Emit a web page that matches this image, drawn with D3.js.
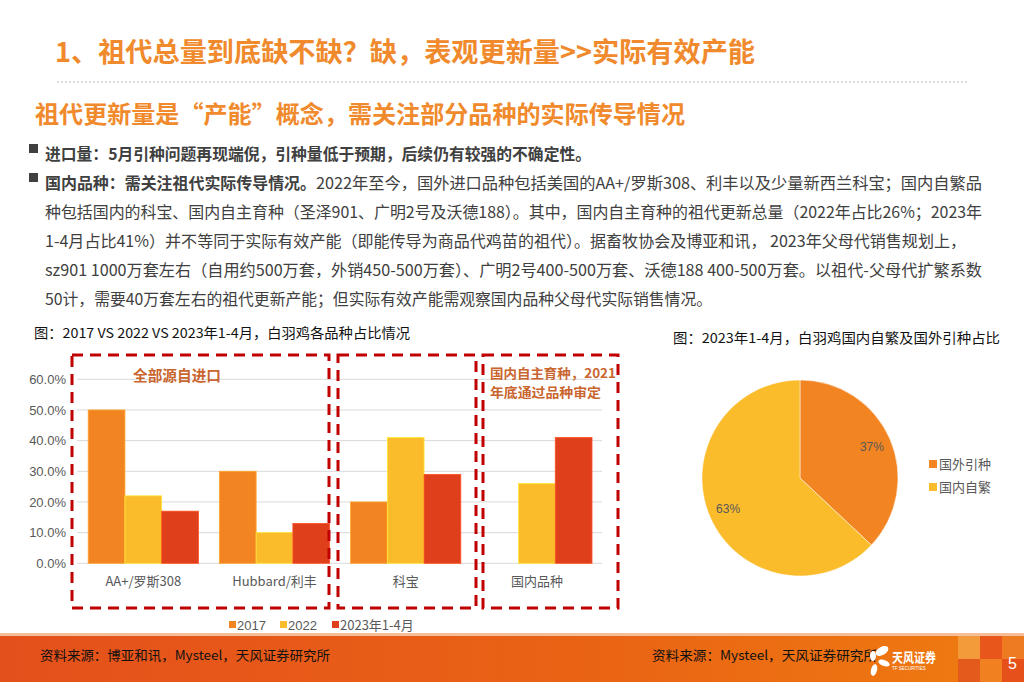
<!doctype html>
<html lang="zh">
<head>
<meta charset="utf-8">
<title>祖代总量到底缺不缺</title>
<script src="https://d3js.org/d3.v7.min.js"></script>
<style>
  body { margin: 0; background: #fff; }
  svg { display: block; }
  .cjk { font-family: "Noto Sans CJK SC", "Microsoft YaHei", sans-serif; }
  .num { font-family: "Liberation Sans", Arial, sans-serif; }
</style>
</head>
<body>
<div id="page"></div>
<script>
// ---- data ----
var categories = ["AA+/罗斯308", "Hubbard/利丰", "科宝", "国内品种"];
var seriesNames = ["2017", "2022", "2023年1-4月"];
var v2017 = [50, 30, 20, 0];
var v2022 = [22, 10, 41, 26];
var v2023 = [17, 13, 29, 41];
var yTicks = [0, 10, 20, 30, 40, 50, 60];

var pieLabels = ["国外引种", "国内自繁"];
var pieValues = [37, 63];

var barColors = ["#F28522", "#FBBC2C", "#DF401B"];
var pieColors = ["#F28522", "#FBBC2C"];

var bodyLines = [
  "种包括国内的科宝、国内自主育种（圣泽901、广明2号及沃德188）。其中，国内自主育种的祖代更新总量（2022年占比26%；2023年",
  "1-4月占比41%）并不等同于实际有效产能（即能传导为商品代鸡苗的祖代）。据畜牧协会及博亚和讯， 2023年父母代销售规划上，",
  "sz901 1000万套左右（自用约500万套，外销450-500万套）、广明2号400-500万套、沃德188 400-500万套。以祖代-父母代扩繁系数",
  "50计，需要40万套左右的祖代更新产能；但实际有效产能需观察国内品种父母代实际销售情况。"
];
var bodyWidths = [937, 921, 937, 667];

// ---- page ----
var W = 1024, H = 682;
var svg = d3.select("#page").append("svg")
  .attr("width", W).attr("height", H);

var defs = svg.append("defs");
var grad = defs.append("linearGradient").attr("id", "foot").attr("x1", 0).attr("x2", 1).attr("y1", 0).attr("y2", 0);
grad.append("stop").attr("offset", "0%").attr("stop-color", "#E4501C");
grad.append("stop").attr("offset", "60%").attr("stop-color", "#EA6414");
grad.append("stop").attr("offset", "100%").attr("stop-color", "#EF7C10");

// header
svg.append("text").attr("class", "cjk")
  .attr("x", 55).attr("y", 62)
  .attr("font-size", 27).attr("font-weight", "bold").attr("fill", "#F08A2C")
  .attr("textLength", 700).attr("lengthAdjust", "spacingAndGlyphs")
  .text("1、祖代总量到底缺不缺？缺，表观更新量>>实际有效产能");

svg.append("line")
  .attr("x1", 57).attr("x2", 967).attr("y1", 82).attr("y2", 82)
  .attr("stroke", "#cfcfcf").attr("stroke-width", 1.5).attr("stroke-dasharray", "2,2");

svg.append("text").attr("class", "cjk")
  .attr("x", 35).attr("y", 123)
  .attr("font-size", 24).attr("font-weight", "bold").attr("fill", "#F08A2C")
  .attr("textLength", 650).attr("lengthAdjust", "spacingAndGlyphs")
  .text("祖代更新量是“产能”概念，需关注部分品种的实际传导情况");

// bullets
var textColor = "#404040";
[154, 183].forEach(function (y) {
  svg.append("rect").attr("x", 29).attr("y", y - 10).attr("width", 9).attr("height", 9).attr("fill", "#404040");
});
svg.append("text").attr("class", "cjk")
  .attr("x", 45).attr("y", 160).attr("font-size", 16).attr("font-weight", "bold").attr("fill", textColor)
  .attr("textLength", 546).attr("lengthAdjust", "spacingAndGlyphs")
  .text("进口量：5月引种问题再现端倪，引种量低于预期，后续仍有较强的不确定性。");

svg.append("text").attr("class", "cjk")
  .attr("x", 45).attr("y", 189).attr("font-size", 16).attr("font-weight", "bold").attr("fill", textColor)
  .attr("textLength", 271).attr("lengthAdjust", "spacingAndGlyphs")
  .text("国内品种：需关注祖代实际传导情况。");
svg.append("text").attr("class", "cjk")
  .attr("x", 316).attr("y", 189).attr("font-size", 16).attr("fill", textColor)
  .attr("textLength", 666).attr("lengthAdjust", "spacingAndGlyphs")
  .text("2022年至今，国外进口品种包括美国的AA+/罗斯308、利丰以及少量新西兰科宝；国内自繁品");

bodyLines.forEach(function (t, i) {
  svg.append("text").attr("class", "cjk")
    .attr("x", 45).attr("y", 218 + i * 29).attr("font-size", 16).attr("fill", textColor)
    .attr("textLength", bodyWidths[i]).attr("lengthAdjust", "spacingAndGlyphs")
    .text(t);
});

// ---- bar chart ----
svg.append("text").attr("class", "cjk")
  .attr("x", 34).attr("y", 338).attr("font-size", 13.5).attr("fill", "#111")
  .attr("textLength", 376).attr("lengthAdjust", "spacingAndGlyphs")
  .text("图：2017 VS 2022 VS 2023年1-4月，白羽鸡各品种占比情况");

var x = d3.scaleBand().domain(categories).range([77.7, 602.5]).paddingInner(0.16).paddingOuter(0.08);
var x1 = d3.scaleBand().domain(seriesNames).range([0, x.bandwidth()]);
var y = d3.scaleLinear().domain([0, 60]).range([563.3, 379.3]);

var grid = svg.append("g");
grid.selectAll("line").data(yTicks).enter().append("line")
  .attr("x1", 77).attr("x2", 602)
  .attr("y1", function (d) { return y(d); }).attr("y2", function (d) { return y(d); })
  .attr("stroke", "#d9d9d9").attr("stroke-width", 1);

var yAxis = svg.append("g").attr("transform", "translate(66,0)")
  .call(d3.axisLeft(y).tickValues(yTicks).tickSize(0).tickPadding(0)
    .tickFormat(function (d) { return d.toFixed(1) + "%"; }));
yAxis.select(".domain").remove();
yAxis.selectAll("text").attr("class", "num").attr("font-size", 13).attr("fill", "#595959");

var series = [v2017, v2022, v2023];
series.forEach(function (vals, s) {
  svg.append("g").selectAll("rect").data(vals).enter().append("rect")
    .attr("x", function (d, i) { return x(categories[i]) + x1(seriesNames[s]); })
    .attr("y", function (d) { return y(d); })
    .attr("width", x1.bandwidth())
    .attr("height", function (d) { return y(0) - y(d); })
    .attr("fill", barColors[s])
    .attr("stroke", d3.color(barColors[s]).brighter(0.6))
    .attr("stroke-width", d => d > 0 ? 0.8 : 0);
});

var xAxis = svg.append("g").attr("transform", "translate(0,574)")
  .call(d3.axisBottom(x).tickSize(0).tickPadding(0));
xAxis.select(".domain").remove();
xAxis.selectAll("text").attr("class", "cjk").attr("font-size", 13).attr("fill", "#595959").attr("dy", "0.9em");

// dashed boxes
var boxes = [[72, 329], [338, 476], [483, 618]];
svg.append("g").selectAll("rect").data(boxes).enter().append("rect")
  .attr("x", function (d) { return d[0]; }).attr("y", 355)
  .attr("width", function (d) { return d[1] - d[0]; }).attr("height", 253)
  .attr("fill", "none").attr("stroke", "#C00000").attr("stroke-width", 3)
  .attr("stroke-dasharray", "11,7");

var noteColor = "#C9652E";
svg.append("text").attr("class", "cjk")
  .attr("x", 133).attr("y", 381).attr("font-size", 15).attr("font-weight", "bold").attr("fill", noteColor)
  .attr("textLength", 88).attr("lengthAdjust", "spacingAndGlyphs")
  .text("全部源自进口");
svg.append("text").attr("class", "cjk")
  .attr("x", 490).attr("y", 378).attr("font-size", 13).attr("font-weight", "bold").attr("fill", noteColor)
  .attr("textLength", 126).attr("lengthAdjust", "spacingAndGlyphs")
  .text("国内自主育种，2021");
svg.append("text").attr("class", "cjk")
  .attr("x", 490).attr("y", 397).attr("font-size", 13).attr("font-weight", "bold").attr("fill", noteColor)
  .attr("textLength", 111).attr("lengthAdjust", "spacingAndGlyphs")
  .text("年底通过品种审定");

// bar legend
var legX = [229, 280, 332];
var leg = svg.append("g");
seriesNames.forEach(function (n, i) {
  leg.append("rect").attr("x", legX[i]).attr("y", 621).attr("width", 7).attr("height", 7).attr("fill", barColors[i]);
  leg.append("text").attr("class", i < 2 ? "num" : "cjk")
    .attr("x", legX[i] + 8).attr("y", 630).attr("font-size", 13).attr("fill", "#595959").text(n);
});

// ---- pie chart ----
svg.append("text").attr("class", "cjk")
  .attr("x", 673).attr("y", 343).attr("font-size", 13.5).attr("fill", "#111")
  .attr("textLength", 327).attr("lengthAdjust", "spacingAndGlyphs")
  .text("图：2023年1-4月，白羽鸡国内自繁及国外引种占比");

var R = 98;
var pie = d3.pie().sort(null).value(function (d) { return d; });
var arc = d3.arc().innerRadius(0).outerRadius(R);
var labelArc = d3.arc().innerRadius(R * 0.8).outerRadius(R * 0.8);
var pg = svg.append("g").attr("transform", "translate(800,478)");
var arcs = pie(pieValues);
pg.selectAll("path").data(arcs).enter().append("path")
  .attr("d", arc)
  .attr("fill", function (d, i) { return pieColors[i]; })
  .attr("stroke", "#fff").attr("stroke-width", 0.5);
pg.selectAll("text").data(arcs).enter().append("text")
  .attr("class", "num")
  .attr("transform", function (d) { return "translate(" + labelArc.centroid(d) + ")"; })
  .attr("text-anchor", "middle").attr("dy", "0.35em")
  .attr("font-size", 12).attr("fill", "#595959")
  .text(function (d) { return d.data + "%"; });

pieLabels.forEach(function (n, i) {
  svg.append("rect").attr("x", 929).attr("y", 460 + i * 23).attr("width", 8).attr("height", 8).attr("fill", pieColors[i]);
  svg.append("text").attr("class", "cjk")
    .attr("x", 939).attr("y", 469 + i * 23).attr("font-size", 13).attr("fill", "#595959").text(n);
});

// ---- footer ----
svg.append("rect").attr("x", 0).attr("y", 633).attr("width", W).attr("height", 3).attr("fill", "#F6BE98");
svg.append("rect").attr("x", 0).attr("y", 636).attr("width", W).attr("height", H - 636).attr("fill", "url(#foot)");

var tiles = [
  [958, 636, "#F39B3A"], [980, 636, "#E8561C"], [1002, 636, "#EE7A22"],
  [958, 659, "#E35A1C"], [980, 659, "#F08020"], [1002, 659, "#E6501A"]
];
svg.append("g").selectAll("rect").data(tiles).enter().append("rect")
  .attr("x", function (d) { return d[0]; }).attr("y", function (d) { return d[1]; })
  .attr("width", 22).attr("height", 23).attr("fill", function (d) { return d[2]; });

svg.append("text").attr("class", "num").attr("x", 1008).attr("y", 669)
  .attr("font-size", 16).attr("fill", "#fff").text("5");

svg.append("text").attr("class", "cjk").attr("x", 40).attr("y", 660)
  .attr("font-size", 13).attr("fill", "#111")
  .attr("textLength", 290).attr("lengthAdjust", "spacingAndGlyphs")
  .text("资料来源：博亚和讯，Mysteel，天风证券研究所");
svg.append("text").attr("class", "cjk").attr("x", 652).attr("y", 660)
  .attr("font-size", 13).attr("fill", "#111")
  .attr("textLength", 225).attr("lengthAdjust", "spacingAndGlyphs")
  .text("资料来源：Mysteel，天风证券研究所");

// logo
var logo = svg.append("g").attr("transform", "translate(878,660)").attr("fill", "#fff");
logo.append("ellipse").attr("cx", 4).attr("cy", -9).attr("rx", 7).attr("ry", 4).attr("transform", "rotate(-30,4,-9)");
logo.append("ellipse").attr("cx", -5).attr("cy", -4).attr("rx", 3).attr("ry", 5);
logo.append("ellipse").attr("cx", 6).attr("cy", 3).attr("rx", 6).attr("ry", 3).attr("transform", "rotate(20,6,3)");
logo.append("ellipse").attr("cx", -4).attr("cy", 10).attr("rx", 3).attr("ry", 6).attr("transform", "rotate(15,-4,10)");
svg.append("text").attr("class", "cjk").attr("x", 892).attr("y", 662)
  .attr("font-size", 13).attr("font-weight", "bold").attr("fill", "#fff")
  .attr("textLength", 44).attr("lengthAdjust", "spacingAndGlyphs").text("天风证券");
svg.append("text").attr("class", "num").attr("x", 892).attr("y", 670)
  .attr("font-size", 4.5).attr("fill", "#fff").text("TF SECURITIES");
</script>
</body>
</html>
